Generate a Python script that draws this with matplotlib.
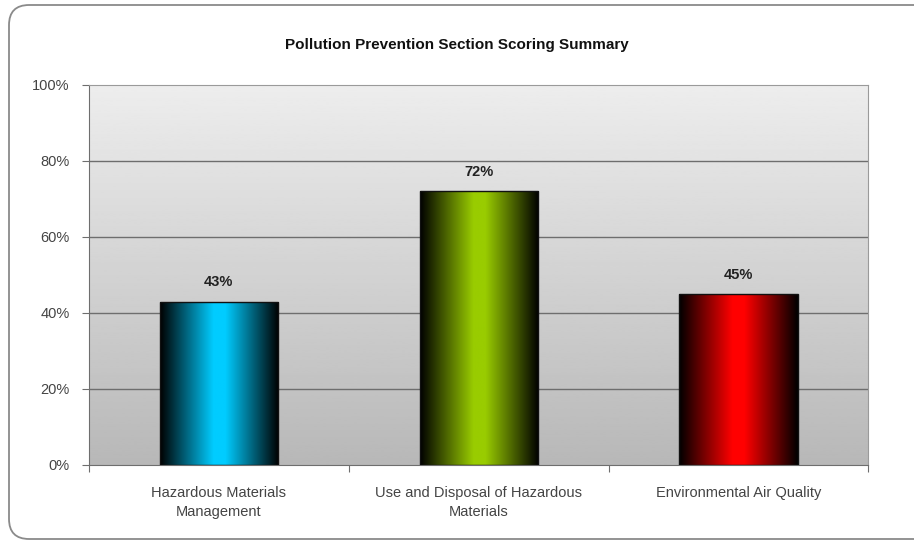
import numpy as np
import matplotlib
matplotlib.use('Agg')
import matplotlib.pyplot as plt
from matplotlib.colors import LinearSegmentedColormap
from matplotlib.patches import FancyBboxPatch

# Chart data
categories = ['Hazardous Materials\nManagement', 'Use and Disposal of Hazardous\nMaterials', 'Environmental Air Quality']
scores = [43, 72, 45]
bar_colors = ['#00ccff', '#99cc00', '#ff0000']
yticks = [0, 20, 40, 60, 80, 100]

plt.rcParams['font.family'] = ['Liberation Sans', 'DejaVu Sans']

fig = plt.figure(figsize=(9.14, 5.41), dpi=100)
ax = fig.add_axes([0.0974, 0.1405, 0.8526, 0.7025])

# rounded outer frame (runs off the right edge like the original)
frame = FancyBboxPatch((9 / 914, 2 / 541), 930 / 914, 534 / 541, boxstyle='round,pad=0,rounding_size=0.022',
                       transform=fig.transFigure, facecolor='white', edgecolor='#8a8a8a',
                       linewidth=1.3, zorder=-10, mutation_aspect=914 / 541, clip_on=False)
fig.patches.append(frame)

x = np.arange(len(categories))
ax.set_xlim(-0.5, len(categories) - 0.5)
ax.set_ylim(0, 100)

# gray vertical gradient background
bg = np.linspace(0.72, 0.93, 256).reshape(-1, 1)
ax.imshow(bg, cmap='gray', vmin=0, vmax=1, aspect='auto', extent=[-0.5, 2.5, 0, 100],
          origin='lower', zorder=0)

for t in yticks[1:-1]:
    ax.axhline(t, color='#6e6e6e', linewidth=1.0, zorder=1)

bars = ax.bar(x, scores, width=0.455, color='none', edgecolor='#111111', linewidth=1.0, zorder=3)
for b, c, v in zip(bars, bar_colors, scores):
    cmap = LinearSegmentedColormap.from_list('g', [(0, '#000000'), (0.45, c), (0.55, c), (1, '#000000')])
    grad = np.linspace(0, 1, 256).reshape(1, -1)
    x0 = b.get_x()
    im = ax.imshow(grad, cmap=cmap, aspect='auto', extent=[x0, x0 + b.get_width(), 0, b.get_height()],
                   zorder=2)
    im.set_clip_path(b)
    ax.text(b.get_x() + b.get_width() / 2, b.get_height() + 3.2, f'{v}%',
            ha='center', va='bottom', fontsize=10.5, fontweight='bold', color='#222222')

ax.set_yticks(yticks)
ax.set_yticklabels([f'{t}%' for t in yticks], fontsize=10.5, color='#444444')
ax.set_xticks([-0.5, 0.5, 1.5, 2.5], minor=False)
ax.set_xticklabels([])
ax.set_xticks(x, minor=True)
ax.set_xticklabels(categories, minor=True, fontsize=10.5, color='#444444', linespacing=1.45)
ax.tick_params(axis='x', which='minor', length=0, pad=15)
ax.tick_params(axis='x', which='major', length=5, color='#6e6e6e')
ax.tick_params(axis='y', length=5, color='#6e6e6e', pad=9)

for s in ['left', 'bottom']:
    ax.spines[s].set_color('#6e6e6e')
ax.spines['top'].set_color('#9a9a9a')
ax.spines['right'].set_color('#9a9a9a')

fig.text(0.5, 0.916, 'Pollution Prevention Section Scoring Summary', ha='center', va='center',
         fontsize=11, fontweight='bold', color='#111111')

fig.savefig('out.png', dpi=100)
